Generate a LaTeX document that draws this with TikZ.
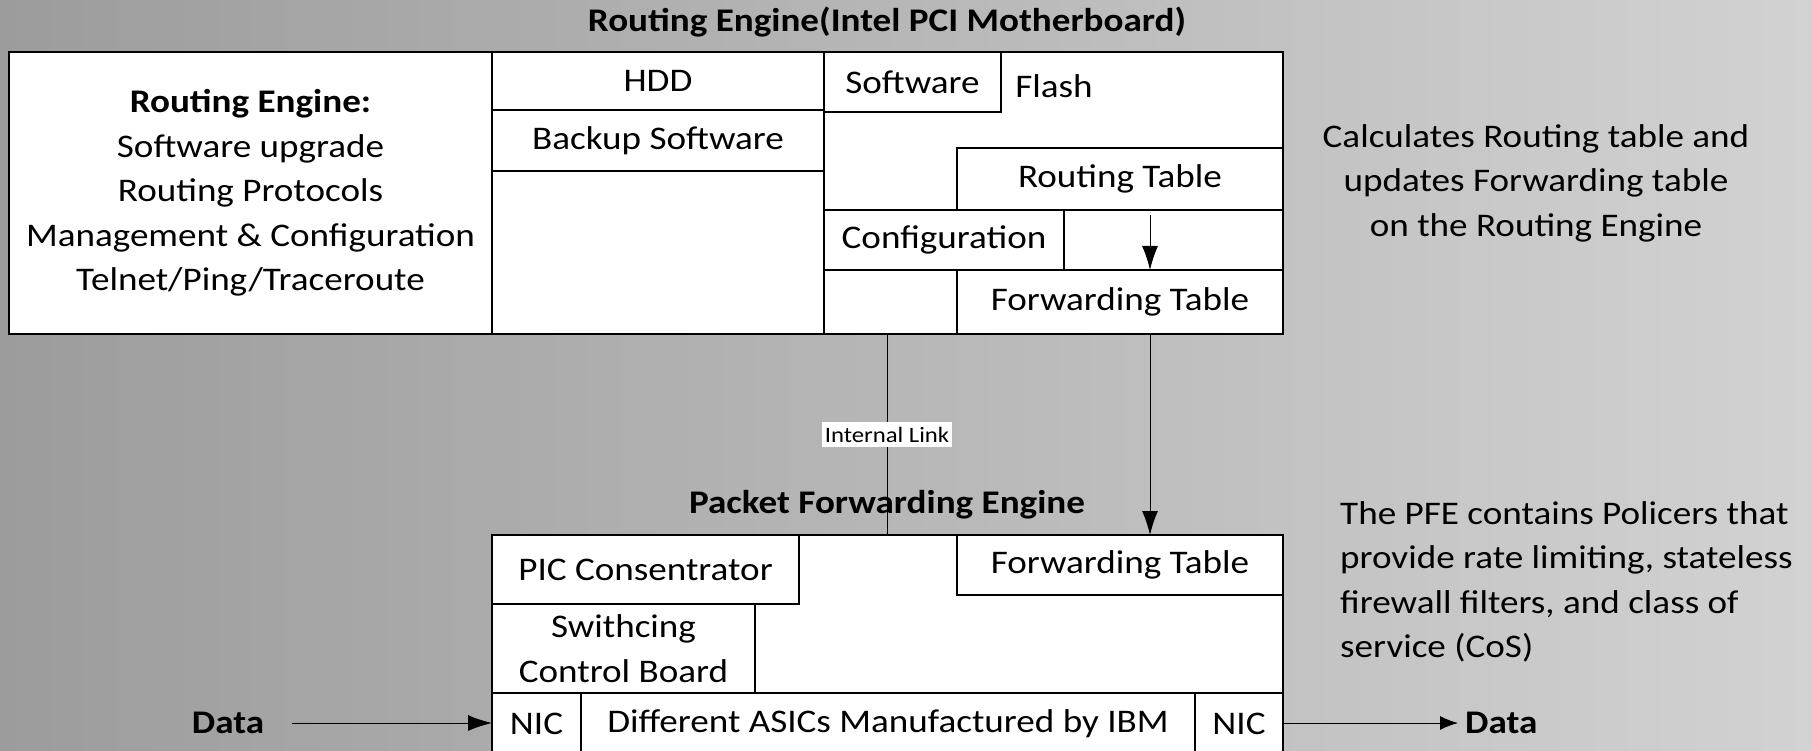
\documentclass[tikz,border=0pt]{standalone}
\usepackage{fontspec}
\setmainfont{Carlito}[FakeStretch=1.125]
\usetikzlibrary{arrows.meta}
\definecolor{bgleft}{HTML}{9C9C9C}
\definecolor{bgright}{HTML}{D2D2D2}
\tikzset{
  cell/.style={draw=black, line width=2.4pt, fill=white, inner sep=0pt, outer sep=0pt,
    anchor=north west, align=center, font=\fontsize{33}{44.5}\selectfont},
  conn/.style={draw=black, line width=1pt},
  bigtip/.style={-{Latex[length=24pt,width=16pt]}},
  smalltip/.style={-{Latex[length=18pt,width=14pt]}},
  plain/.style={inner sep=0pt, font=\fontsize{33}{44.5}\selectfont},
  boldtxt/.style={inner sep=0pt, font=\fontsize{33}{44.5}\selectfont\bfseries},
  linklabel/.style={fill=white, inner xsep=3pt, inner ysep=5pt, font=\fontsize{22}{24}\selectfont}
}
\begin{document}
\begin{tikzpicture}[x=1pt,y=-1pt]
\useasboundingbox (0,0) rectangle (1812,751);
\clip (0,0) rectangle (1812,751);
\shade[left color=bgleft, right color=bgright] (0,0) rectangle (1812,751);

% titles
\node[boldtxt] (title) at (887,22) {Routing Engine(Intel PCI Motherboard)};

% Routing engine box
\node[cell, minimum width=1274pt, minimum height=282pt] (re) at (9,52) {};
\node[cell, minimum width=483pt, minimum height=282pt] (lp) at (9,52)
  {\textbf{Routing Engine:}\\Software upgrade\\Routing Protocols\\Management \& Configuration\\Telnet/Ping/Traceroute};
\node[cell, minimum width=332pt, minimum height=58pt] (hdd) at (492,52) {HDD};
\node[cell, minimum width=332pt, minimum height=61pt] (bak) at (492,110) {Backup Software};
\node[cell, minimum width=332pt, minimum height=163pt] (hddrest) at (492,171) {};
\node[cell, minimum width=459pt, minimum height=282pt] (rc) at (824,52) {};
\node[cell, minimum width=177pt, minimum height=60pt] (sw) at (824,52) {Software};
\node[plain] (flash) at (1054,86) {Flash};
\node[cell, minimum width=326pt, minimum height=62pt] (rt) at (957,148) {Routing Table};
\node[cell, minimum width=240pt, minimum height=60pt] (cfg) at (824,210) {Configuration};
\node[cell, minimum width=219pt, minimum height=60pt] (cfgr) at (1064,210) {};
\node[cell, minimum width=326pt, minimum height=64pt] (ft) at (957,270) {Forwarding Table};

% side texts
\node[plain, align=center] (calc) at (1536,183) {Calculates Routing table and\\updates Forwarding table\\on the Routing Engine};
\node[plain, align=left, anchor=west] (pfetxt) at (1340,582) {The PFE contains Policers that\\provide rate limiting, stateless\\firewall filters, and class of\\service (CoS)};

% Packet forwarding engine
\node[boldtxt] (pfetitle) at (887,505) {Packet Forwarding Engine};
\node[cell, minimum width=791pt, minimum height=225pt] (pfe) at (492,535) {};
\node[cell, minimum width=307pt, minimum height=69pt] (pic) at (492,535) {PIC Consentrator};
\node[cell, minimum width=263pt, minimum height=89pt] (scb) at (492,604) {Swithcing\\Control Board};
\node[cell, minimum width=326pt, minimum height=60pt] (ft2) at (957,535) {Forwarding Table};
\node[cell, minimum width=89pt, minimum height=62pt] (nicl) at (492,693) {NIC};
\node[cell, minimum width=614pt, minimum height=62pt] (asic) at (581,693) {Different ASICs Manufactured by IBM};
\node[cell, minimum width=88pt, minimum height=62pt] (nicr) at (1195,693) {NIC};

% data labels
\node[boldtxt] (din) at (228,723) {Data};
\node[boldtxt, anchor=west] (dout) at (1465,723) {Data};

% connectors
\coordinate (ax) at (1150,0);
\draw[conn, bigtip, shorten <=5pt] (rt.south -| ax) -- (ft.north -| ax);
\draw[conn, bigtip] (ft.south -| ax) -- (ft2.north -| ax);
\draw[conn] (re.south -| pfetitle) -- node[linklabel] {Internal Link} (pfe.north -| pfetitle);
\draw[conn, bigtip, shorten <=28pt] (din.east) -- (din.east -| nicl.west);
\draw[conn, smalltip, shorten >=7pt] (nicr.east |- dout.west) -- (dout.west);
\end{tikzpicture}
\end{document}
